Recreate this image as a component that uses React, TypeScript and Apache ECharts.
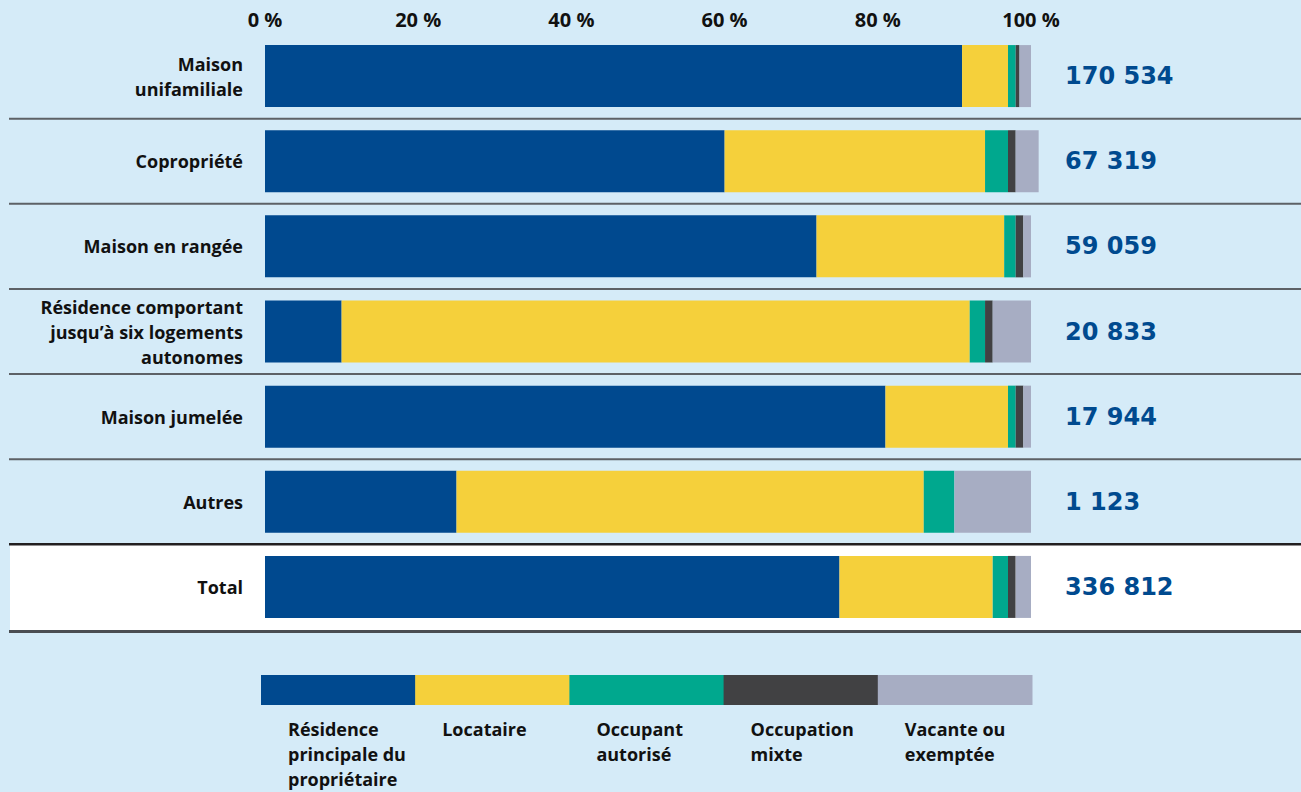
import React, { useEffect, useRef } from 'react';
import * as echarts from 'echarts';

const categories = [
  'Maison\nunifamiliale',
  'Copropriété',
  'Maison en rangée',
  'Résidence comportant\njusqu’à six logements\nautonomes',
  'Maison jumelée',
  'Autres',
  'Total',
];
const totals = [170534, 67319, 59059, 20833, 17944, 1123, 336812];
const seriesNames = [
  'Résidence\nprincipale du\npropriétaire',
  'Locataire',
  'Occupant\nautorisé',
  'Occupation\nmixte',
  'Vacante ou\nexemptée',
];
const proprietaire = [91, 60, 72, 10, 81, 25, 75];
const locataire = [6, 34, 24.5, 82, 16, 61, 20];
const occupantAutorise = [1, 3, 1.5, 2, 1, 4, 2];
const occupationMixte = [0.5, 1, 1, 1, 1, 0, 1];
const vacante = [1.5, 3, 1, 5, 1, 10, 2];
const xTickLabels = ['0 %', '20 %', '40 %', '60 %', '80 %', '100 %'];

const seriesData = [proprietaire, locataire, occupantAutorise, occupationMixte, vacante];
const colors = ['#00498f', '#f5d03b', '#00a88e', '#414143', '#a7adc3'];
const BG = '#d5ebf8';
const LABEL_FONT = '"Open Sans", "Liberation Sans", sans-serif';

const fmt = (v: number) => String(v).replace(/\B(?=(\d{3})+(?!\d))/g, ' ');

export default function App() {
  const ref = useRef<HTMLDivElement>(null);

  useEffect(() => {
    document.body.style.margin = '0';
    const chart = echarts.init(ref.current!, null, { renderer: 'svg' });
    const option: any = {
      animation: false,
      backgroundColor: BG,
      grid: { left: 265, right: 270, top: 33.5, height: 596 },
      xAxis: {
        type: 'value',
        position: 'top',
        min: 0,
        max: 100,
        interval: 20,
        axisLine: { show: false },
        axisTick: { show: false },
        splitLine: { show: false },
        axisLabel: {
          margin: 4,
          formatter: (v: number) => xTickLabels[Math.round(v / 20)],
          color: '#111',
          fontFamily: LABEL_FONT,
          fontWeight: 'bold',
          fontSize: 20,
        },
      },
      yAxis: [
        {
          type: 'category',
          inverse: true,
          data: categories,
          axisLine: { show: false },
          axisTick: { show: false },
          axisLabel: {
            margin: 22,
            color: '#111',
            fontFamily: LABEL_FONT,
            fontWeight: 'bold',
            fontSize: 18,
            lineHeight: 25,
            align: 'right',
          },
        },
        {
          type: 'category',
          inverse: true,
          position: 'right',
          data: totals.map(fmt),
          axisLine: { show: false },
          axisTick: { show: false },
          axisLabel: {
            margin: 34,
            color: '#004a8f',
            fontFamily: '"DejaVu Sans", sans-serif',
            fontWeight: 'bold',
            fontSize: 24,
            align: 'left',
          },
        },
      ],
      series: seriesData.map((d, i) => ({
        type: 'bar',
        name: seriesNames[i],
        stack: 'all',
        data: d,
        barWidth: 62,
        clip: false,
        itemStyle: { color: colors[i] },
      })),
    };
    chart.setOption(option);

    const y0 = chart.convertToPixel({ yAxisIndex: 0 }, 0) as number;
    const y1 = chart.convertToPixel({ yAxisIndex: 0 }, 1) as number;
    const band = y1 - y0;
    const graphics: any[] = [];
    const n = categories.length;
    const totalTop = y0 + band * (n - 1) - band / 2;
    const totalBottom = y0 + band * (n - 1) + band / 2 + 2;
    graphics.push({
      type: 'rect',
      z: -10,
      shape: { x: 10, y: totalTop, width: 1291, height: totalBottom - totalTop },
      style: { fill: '#ffffff' },
    });
    for (let i = 0; i < n - 1; i++) {
      const y = y0 + band * i + band / 2;
      const isTotal = i === n - 2;
      graphics.push({
        type: 'line',
        z: 5,
        shape: { x1: 9, y1: y, x2: 1301, y2: y },
        style: { stroke: isTotal ? '#231f20' : '#5d6166', lineWidth: isTotal ? 2.5 : 2 },
      });
    }
    graphics.push({
      type: 'line',
      z: 5,
      shape: { x1: 9, y1: totalBottom, x2: 1301, y2: totalBottom },
      style: { stroke: '#4a4d52', lineWidth: 3 },
    });

    // Legend as a strip of equal segments
    const legX = 261;
    const legW = (1032 - 261) / seriesNames.length;
    seriesNames.forEach((name, i) => {
      graphics.push({
        type: 'rect',
        shape: { x: legX + legW * i, y: 675, width: legW + 0.5, height: 30 },
        style: { fill: colors[i] },
      });
      graphics.push({
        type: 'text',
        x: legX + legW * i + 27,
        y: 716,
        style: {
          text: name,
          fill: '#111',
          font: `bold 18px ${LABEL_FONT}`,
          lineHeight: 25,
          align: 'left',
          verticalAlign: 'top',
        },
      });
    });
    chart.setOption({ graphic: graphics });

    return () => chart.dispose();
  }, []);

  return <div ref={ref} style={{ width: 1301, height: 792 }} />;
}
